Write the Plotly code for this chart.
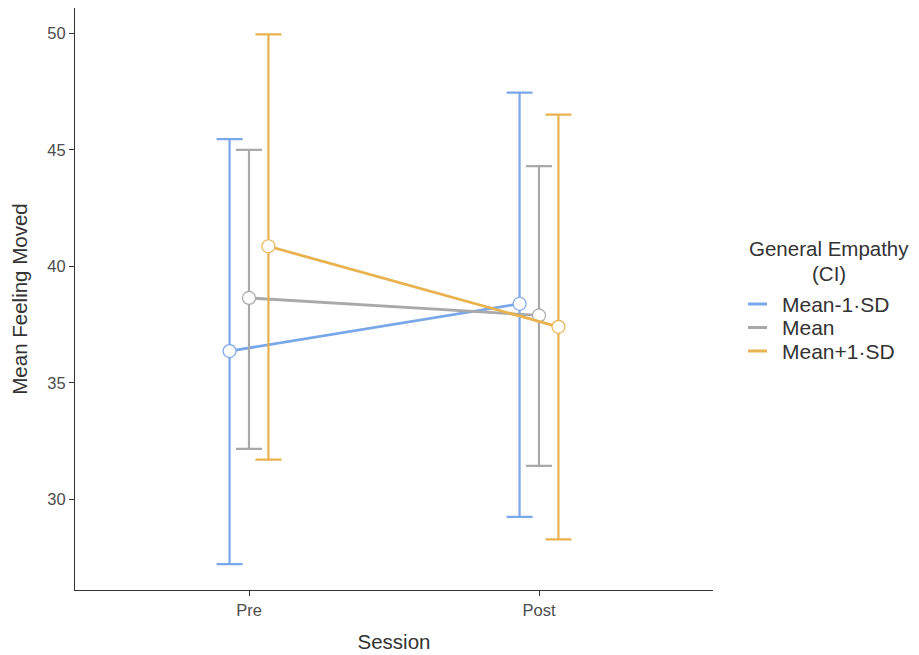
import plotly.graph_objects as go

sessions = ["Pre", "Post"]
groups = ["Mean-1·SD", "Mean", "Mean+1·SD"]
means = {
    "Mean-1·SD": [36.36, 38.39],
    "Mean": [38.64, 37.89],
    "Mean+1·SD": [40.86, 37.40],
}
ci_low = {
    "Mean-1·SD": [27.21, 29.24],
    "Mean": [32.16, 31.43],
    "Mean+1·SD": [31.70, 28.27],
}
ci_high = {
    "Mean-1·SD": [45.46, 47.46],
    "Mean": [45.00, 44.30],
    "Mean+1·SD": [49.96, 46.51],
}
legend_title = ["General Empathy", "(CI)"]
colors = {"Mean-1·SD": "#7AA7EA", "Mean": "#A9A9A9", "Mean+1·SD": "#E9B24E"}
dodge = {"Mean-1·SD": -0.067, "Mean": 0.0, "Mean+1·SD": 0.067}

# page body has an 8px default margin; compensate
OFF = 8
W, H = 919 - OFF, 655 - OFF
L, T = 75 - OFF, 0
PLOT_R, PLOT_B = 713 - OFF, 590 - OFF
R, B = W - PLOT_R, H - PLOT_B
PW, PH = PLOT_R - L, PLOT_B - T


def px_x(px):
    return (px - OFF - L) / PW


def px_y(py):
    return (PLOT_B - (py - OFF)) / PH


fig = go.Figure()
for g in groups:
    xs = [i + dodge[g] for i in range(len(sessions))]
    m = means[g]
    up = [h - v for h, v in zip(ci_high[g], m)]
    dn = [v - l for l, v in zip(ci_low[g], m)]
    fig.add_trace(go.Scatter(
        x=xs, y=m, mode="lines+markers", showlegend=False, name=g,
        line=dict(color=colors[g], width=2.8),
        marker=dict(size=13, color="white", line=dict(color=colors[g], width=1.2)),
        error_y=dict(type="data", symmetric=False, array=up, arrayminus=dn,
                     color=colors[g], thickness=2.2, width=13),
    ))

font_fam = "Liberation Sans, Arial, sans-serif"
annotations = []
shapes = []
for i, line in enumerate(legend_title):
    annotations.append(dict(
        x=px_x(829), y=px_y(248 + 25 * i), xref="paper", yref="paper",
        text=line, showarrow=False, xanchor="center", yanchor="middle",
        font=dict(size=20.5, color="#333333", family=font_fam)))
for i, g in enumerate(groups):
    yc = 304 + 23.5 * i
    shapes.append(dict(type="line", xref="paper", yref="paper",
                       x0=px_x(748), x1=px_x(767), y0=px_y(yc), y1=px_y(yc),
                       line=dict(color=colors[g], width=3)))
    annotations.append(dict(
        x=px_x(780), y=px_y(yc), xref="paper", yref="paper",
        text=g, showarrow=False, xanchor="left", yanchor="middle",
        font=dict(size=21, color="#333333", family=font_fam)))

fig.update_layout(
    width=W, height=H,
    margin=dict(l=L, r=R, t=T, b=B),
    plot_bgcolor="white", paper_bgcolor="white",
    font=dict(family=font_fam, color="#333333"),
    showlegend=False,
    annotations=annotations,
    shapes=shapes,
    xaxis=dict(range=[-0.6, 1.6], tickvals=[0, 1], ticktext=sessions,
               showline=True, linecolor="#333333", linewidth=1.2,
               ticks="outside", ticklen=5, tickcolor="#333333",
               showgrid=False, zeroline=False, automargin=False,
               tickfont=dict(size=16.5, color="#4d4d4d"),
               title=dict(text="Session", font=dict(size=20.5, color="#333333"), standoff=16)),
    yaxis=dict(range=[26.1, 51.09], tickvals=[30, 35, 40, 45, 50],
               showline=True, linecolor="#333333", linewidth=1.2,
               ticks="outside", ticklen=5, tickcolor="#333333",
               showgrid=False, zeroline=False, automargin=False,
               tickfont=dict(size=16.5, color="#4d4d4d"),
               title=dict(text="Mean Feeling Moved", font=dict(size=20.5, color="#333333"), standoff=16)),
)
fig.write_html("out.html")
